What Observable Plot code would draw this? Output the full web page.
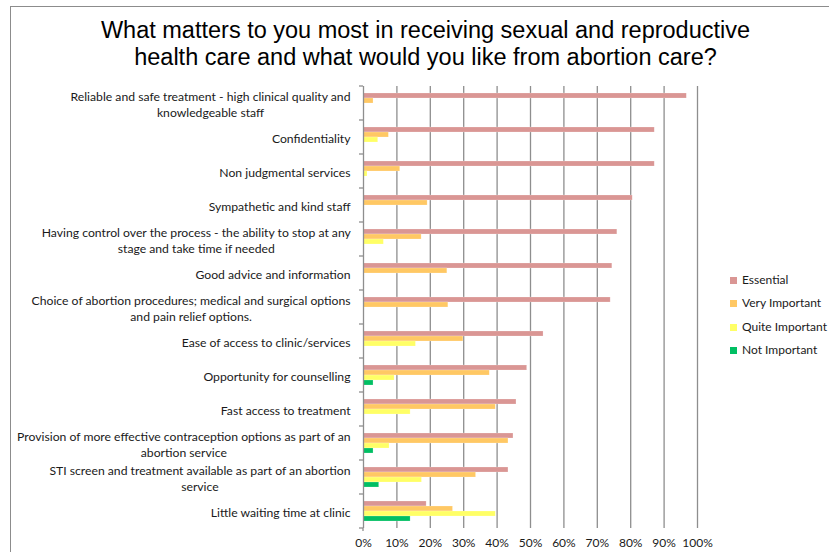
<!DOCTYPE html>
<html><head><meta charset="utf-8">
<script src="https://cdn.jsdelivr.net/npm/d3@7"></script>
<script src="https://cdn.jsdelivr.net/npm/@observablehq/plot@0.6"></script>
<style>
body{margin:0;background:#fff;}
#wrap{position:relative;width:829px;height:552px;overflow:hidden;font-family:Lato,sans-serif;}
#frame{position:absolute;left:10px;top:6px;width:900px;height:700px;border:1px solid #8c8c8c;}
#title{position:absolute;left:0;top:17px;width:851px;text-align:center;font-family:"Liberation Sans",Arial,sans-serif;font-size:23.5px;line-height:26.5px;color:#000;}
#chart{position:absolute;left:0;top:80px;}
#legend{position:absolute;left:730px;top:271px;font-family:Lato,sans-serif;font-size:12px;color:#1a1a1a;}
#legend div{height:23.4px;line-height:18px;white-space:nowrap;}
#legend span.sw{display:inline-block;width:7px;height:7px;margin-right:5px;vertical-align:0px;}
</style></head>
<body>
<div id="wrap">
  <div id="frame"></div>
  <div id="title">What matters to you most in receiving sexual and reproductive<br>health care and what would you like from abortion care?</div>
  <div id="chart"></div>
  <div id="legend"></div>
</div>
<script>
const categories = [
  "Reliable and safe treatment - high clinical quality and\nknowledgeable staff",
  "Confidentiality",
  "Non judgmental services",
  "Sympathetic and kind staff",
  "Having control over the process - the ability to stop at any\nstage and take time if needed",
  "Good advice and information",
  "Choice of abortion procedures; medical and surgical options\nand pain relief options.",
  "Ease of access to clinic/services",
  "Opportunity for counselling",
  "Fast access to treatment",
  "Provision of more effective contraception options as part of an\nabortion service",
  "STI screen and treatment available as part of an abortion\nservice",
  "Little waiting time at clinic"
];
const seriesNames = ["Essential", "Very Important", "Quite Important", "Not Important"];
const essential      = [96.8, 87.2, 87.2, 80.6, 76.0, 74.5, 74.0, 53.9, 49.0, 45.8, 44.9, 43.4, 18.9];
const veryImportant  = [3.0, 7.6, 11.0, 19.2, 17.4, 25.1, 25.4, 29.9, 37.8, 39.6, 43.4, 33.7, 26.8];
const quiteImportant = [0, 4.4, 1.2, 0, 6.1, 0, 0, 15.7, 9.3, 14.1, 7.8, 17.5, 39.6];
const notImportant   = [0, 0, 0, 0, 0, 0, 0, 0, 3.0, 0, 3.0, 4.7, 14.1];
const seriesColors = ["#da9694", "#ffc864", "#ffff66", "#00bf63"];
const xTicks = [0, 10, 20, 30, 40, 50, 60, 70, 80, 90, 100];

const seriesValues = [essential, veryImportant, quiteImportant, notImportant];
const rows = [];
categories.forEach((c, i) => {
  seriesValues.forEach((arr, k) => {
    rows.push({category: c, series: seriesNames[k], value: arr[i]});
  });
});

const chart = Plot.plot({
  width: 829,
  height: 472,
  marginLeft: 363,
  marginRight: 132,
  marginTop: 6,
  marginBottom: 24,
  style: {fontFamily: "Lato, sans-serif", fontSize: "12px", color: "#1a1a1a", background: "transparent"},
  x: {domain: [0, 100], axis: null},
  y: {domain: seriesNames, paddingInner: 0, paddingOuter: 0.98, axis: null},
  fy: {domain: categories, padding: 0, axis: null},
  color: {domain: seriesNames, range: seriesColors},
  marks: [
    Plot.gridX(xTicks.slice(1), {stroke: "#8e8e8e", strokeOpacity: 1, strokeWidth: 1.3}),
    Plot.barX(rows, {fy: "category", y: "series", x: "value", fill: "series", stroke: "#ffffff", strokeOpacity: 0.35, strokeWidth: 0.6}),
    Plot.ruleX([0], {stroke: "#8e8e8e", strokeWidth: 1.3}),
    Plot.text(categories, {fy: d => d, text: d => d, frameAnchor: "left", dx: -13, textAnchor: "end", lineHeight: 1.33, fontSize: 12.2, fill: "#1a1a1a", className: "catlabels"}),
    Plot.axisX({ticks: xTicks, tickFormat: d => d + "%", tickSize: 0, tickPadding: 10, fontSize: 12, fill: "#1a1a1a", label: null})
  ]
});
document.getElementById("chart").appendChild(chart);

// center the wrapped lines of each category label on its first line (as in the reference)
d3.select(chart).selectAll("g.catlabels text").each(function() {
  const tspans = this.querySelectorAll("tspan");
  if (tspans.length < 2) return;
  const bb = this.getBBox();
  this.setAttribute("text-anchor", "middle");
  tspans.forEach(t => t.setAttribute("x", bb.x + bb.width / 2));
});

// category boundary tick marks on the y axis, placed with the fy scale
const fyS = chart.scale("fy");
const xS = chart.scale("x");
const band = d3.scaleBand().domain(fyS.domain).range(fyS.range).paddingInner(fyS.paddingInner || 0).paddingOuter(fyS.paddingOuter || 0);
const x0 = xS.apply(0);
const bounds = categories.map(c => band(c)).concat([band(categories[categories.length - 1]) + band.bandwidth()]);
const svg = d3.select(chart);
const g = svg.append("g").attr("stroke", "#8e8e8e").attr("stroke-width", 1.3);
bounds.forEach(b => g.append("line").attr("x1", x0 - 4).attr("x2", x0).attr("y1", b).attr("y2", b));
g.append("line").attr("x1", x0).attr("x2", x0).attr("y1", bounds[bounds.length - 1]).attr("y2", bounds[bounds.length - 1] + 3);

// legend
const leg = d3.select("#legend");
seriesNames.forEach((s, i) => {
  const row = leg.append("div");
  row.append("span").attr("class", "sw").style("background", seriesColors[i]);
  row.append("span").text(s);
});
</script>
</body></html>
